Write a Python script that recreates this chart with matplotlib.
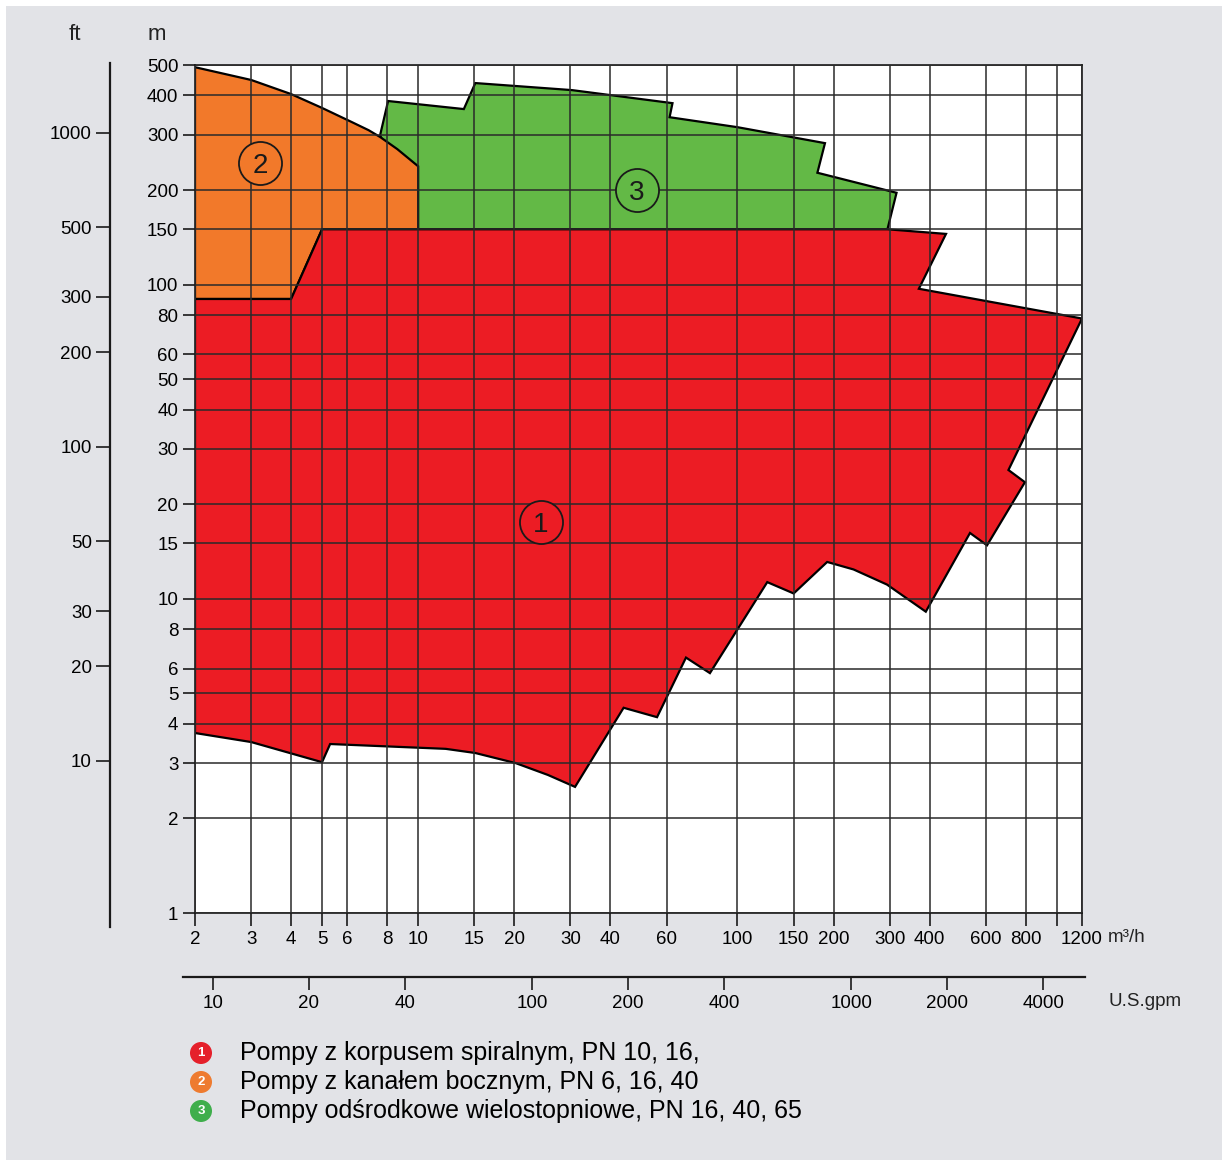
import matplotlib.pyplot as plt
from matplotlib.patches import Rectangle
from matplotlib.ticker import NullLocator

plt.rcParams['font.family'] = ['Liberation Sans', 'DejaVu Sans']

# podzialka osi: przeplyw Q [m3/h] i wysokosc podnoszenia H [m]
q_ticks = [2, 3, 4, 5, 6, 8, 10, 15, 20, 30, 40, 60, 100, 150, 200, 300, 400, 600, 800, 1000, 1200]
q_labels = ['' if v == 1000 else str(v) for v in q_ticks]
h_ticks = [1, 2, 3, 4, 5, 6, 8, 10, 15, 20, 30, 40, 50, 60, 80, 100, 150, 200, 300, 400, 500]
ft_ticks = [10, 20, 30, 50, 100, 200, 300, 500, 1000]
gpm_ticks = [10, 20, 40, 100, 200, 400, 1000, 2000, 4000]

# obszar 1 - pompy z korpusem spiralnym
red_q = [2, 4, 5, 295, 450, 370, 1200, 706, 795, 605, 535, 389, 294, 231, 191, 150, 124,
         82, 69, 56, 44, 31, 25.5, 20.2, 15.1, 12.2, 5.3, 5, 3, 2]
red_h = [90, 90, 150, 150, 145, 97, 78, 25.7, 23.5, 14.8, 16.2, 9.1, 11.1, 12.4, 13.1, 10.4, 11.3,
         5.8, 6.5, 4.2, 4.5, 2.52, 2.75, 3.0, 3.23, 3.33, 3.45, 3.02, 3.5, 3.74]

# obszar 2 - pompy z kanalem bocznym
orange_q = [2, 3, 4, 5, 6.2, 7.0, 7.6, 8.6, 10, 10, 5, 4, 2]
orange_h = [492, 448, 404, 365, 329, 310, 295, 270, 238, 150, 150, 90, 90]

# obszar 3 - pompy wielostopniowe
green_q = [7.6, 8.05, 13.9, 15.1, 30.3, 62.6, 61.3, 100, 188, 178, 315, 295, 10]
green_h = [299, 384, 362, 438, 416, 378, 341, 317, 282, 227, 196, 150, 150]

# numery obszarow
num_q = [24.2, 3.2, 48.4]
num_h = [17.6, 244, 200]
num_txt = ['1', '2', '3']

legend_txt = ['Pompy z korpusem spiralnym, PN 10, 16,',
              'Pompy z kanałem bocznym, PN 6, 16, 40',
              'Pompy odśrodkowe wielostopniowe, PN 16, 40, 65']

c_red = '#ec1c24'
c_orange = '#f2792a'
c_green = '#63b946'
fills = [c_red, c_orange, c_green]
legend_cols = ['#e5202b', '#ee7b30', '#3fae4c']

W, H = 1228, 1160
fig = plt.figure(figsize=(W / 100, H / 100), dpi=100)
fig.patch.set_facecolor('white')
fig.add_artist(Rectangle((6 / W, 0), (1222 - 6) / W, 1 - 6 / H, transform=fig.transFigure,
                         fc='#e2e3e7', ec='none', zorder=-10))

ax = fig.add_axes([195 / W, 1 - 913 / H, 887 / W, 848 / H])
ax.set_facecolor('white')
ax.set_xscale('log')
ax.set_yscale('log')
ax.set_xlim(2, 1200)
ax.set_ylim(1, 500)

ax.fill(green_q, green_h, fc=c_green, ec='black', lw=1.6, zorder=1.0)
ax.fill(orange_q, orange_h, fc=c_orange, ec='black', lw=1.6, zorder=1.1)
ax.fill(red_q, red_h, fc=c_red, ec='black', lw=1.6, zorder=1.2)

for q, h, t, c in zip(num_q, num_h, num_txt, fills):
    ax.plot(q, h, 'o', ms=31, mfc=c, mec='#1a1a1a', mew=1.3, zorder=4)
    ax.text(q, h, t, ha='center', va='center_baseline', fontsize=20, color='#1a1a1a', zorder=5)

ax.set_xticks(q_ticks, labels=q_labels)
ax.set_yticks(h_ticks, labels=[str(v) for v in h_ticks])
ax.xaxis.set_minor_locator(NullLocator())
ax.yaxis.set_minor_locator(NullLocator())
ax.set_axisbelow(False)
ax.grid(True, which='major', color='#2a2a2a', lw=1.1)
ax.tick_params(axis='both', direction='out', length=9, width=1.2, labelsize=13.5, color='#1a1a1a')
ax.tick_params(axis='x', pad=4)
ax.tick_params(axis='y', pad=3)
for s in ax.spines.values():
    s.set_color('#1a1a1a')
    s.set_linewidth(1.2)

# skala w stopach
secy = ax.secondary_yaxis(-0.0958, functions=(lambda m: m / 0.3048, lambda f: f * 0.3048))
secy.set_yticks(ft_ticks, labels=[str(v) for v in ft_ticks])
secy.yaxis.set_minor_locator(NullLocator())
secy.tick_params(direction='out', length=10, width=1.2, labelsize=13.5, pad=3, color='#1a1a1a')
secy.spines['left'].set_linewidth(1.6)
secy.spines['left'].set_color('#1a1a1a')
secy.spines['left'].set_bounds(2.96, 1664)

# skala w galonach
secx = ax.secondary_xaxis(-0.0755, functions=(lambda q: q * 4.4029, lambda g: g / 4.4029))
secx.set_xticks(gpm_ticks, labels=[str(v) for v in gpm_ticks])
secx.xaxis.set_minor_locator(NullLocator())
secx.tick_params(direction='out', length=9, width=1.2, labelsize=13.5, pad=4, color='#1a1a1a')
secx.spines['bottom'].set_linewidth(1.6)
secx.spines['bottom'].set_color('#1a1a1a')
secx.spines['bottom'].set_bounds(8.1, 5395)

fig.text(75 / W, 1 - 35 / H, 'ft', ha='center', va='center', fontsize=16, color='#222222')
fig.text(157 / W, 1 - 35 / H, 'm', ha='center', va='center', fontsize=16, color='#222222')
fig.text(1108 / W, 1 - 938 / H, 'm³/h', ha='left', va='center', fontsize=13.5, color='#222222')
fig.text(1108 / W, 1 - 1001 / H, 'U.S.gpm', ha='left', va='center', fontsize=13.5, color='#222222')

for i, (t, c) in enumerate(zip(legend_txt, legend_cols)):
    y = 1 - (1053 + 29 * i) / H
    fig.text(201 / W, y, str(i + 1), ha='center', va='center', fontsize=9.5, fontweight='bold',
             color='white', bbox=dict(boxstyle='circle,pad=0.38', fc=c, ec='none'))
    fig.text(240 / W, y, t, ha='left', va='center', fontsize=18, color='black')

fig.savefig('out.png', dpi=100)
